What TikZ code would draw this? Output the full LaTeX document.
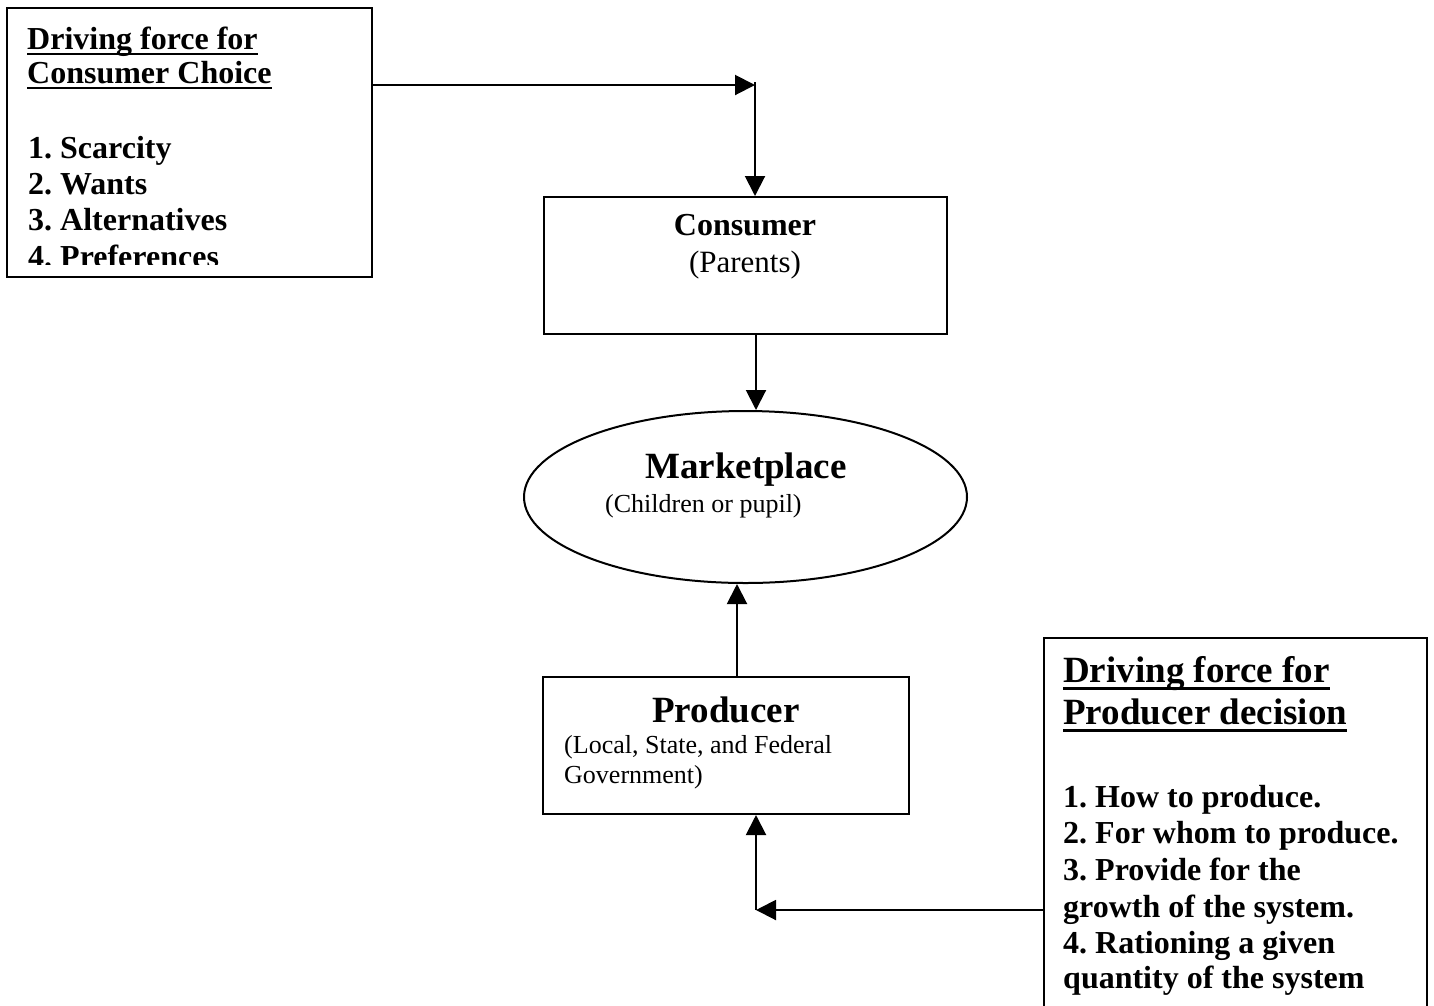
\documentclass[tikz,border=0pt]{standalone}
\usepackage{fontspec}
\setmainfont{Liberation Serif}
\usetikzlibrary{arrows.meta,shapes.geometric}
\frenchspacing
\begin{document}
\begin{tikzpicture}[x=1pt,y=-1pt,
  frame/.style={draw,line width=2pt,inner sep=0pt},
  arr/.style={line width=2pt,-{Triangle[length=20pt,width=20pt]}},
  ulline/.style={line width=2.6pt},
  bigb/.style={inner sep=0pt,font=\fontsize{37}{40}\selectfont\bfseries\frenchspacing},
  medb/.style={inner sep=0pt,font=\fontsize{32}{36}\selectfont\bfseries\frenchspacing},
  medr/.style={inner sep=0pt,font=\fontsize{31}{35}\selectfont\frenchspacing},
  smr/.style={inner sep=0pt,font=\fontsize{26}{30}\selectfont\frenchspacing}]
\clip (0,0) rectangle (1434,1005);
\fill[white] (0,0) rectangle (1434,1005);

% boxes
\node[frame,minimum width=365pt,minimum height=269pt] (lbox) at (189.5,142.5) {};
\node[frame,minimum width=403pt,minimum height=137pt] (cons) at (745.5,265.5) {};
\node[frame,ellipse,minimum width=443pt,minimum height=172pt] (mkt) at (745.5,497) {};
\node[frame,minimum width=366pt,minimum height=137pt] (prod) at (726,745.5) {};
\node[frame,minimum width=383pt,minimum height=392pt] (rbox) at (1235.5,834) {};

% left box text (clipped at the bottom)
\begin{scope}
\clip (9,10) rectangle (370,264);
\node[medb,anchor=base west] (l1) at (27,49) {Driving force for};
\node[medb,anchor=base west] (l2) at (27,83) {Consumer Choice};
\node[medb,anchor=base west] (l3) at (28,158) {1. Scarcity};
\node[medb,anchor=base west] (l4) at (28,194) {2. Wants};
\node[medb,anchor=base west] (l5) at (28,230) {3. Alternatives};
\node[medb,anchor=base west] (l6) at (28,267) {4. Preferences};
\end{scope}
\draw[ulline] ([yshift=-5pt]l1.base west) -- ([yshift=-5pt]l1.base east);
\draw[ulline] ([yshift=-5pt]l2.base west) -- ([yshift=-5pt]l2.base east);

% consumer text
\node[medb,anchor=base] (c1) at (745,235) {Consumer};
\node[medr,anchor=base] (c2) at (745,272) {(Parents)};

% marketplace text
\node[bigb,anchor=base west] (m1) at (645,478) {Marketplace};
\node[smr,anchor=base west] (m2) at (605,512) {(Children or pupil)};

% producer text
\node[bigb,anchor=base] (p1) at (726,722) {Producer};
\node[smr,anchor=base west] (p2) at (564,753) {(Local, State, and Federal};
\node[smr,anchor=base west] (p3) at (564,783) {Government)};

% right box text
\node[bigb,anchor=base west] (r1) at (1063,682) {Driving force for};
\node[bigb,anchor=base west] (r2) at (1063,724) {Producer decision};
\draw[ulline,line width=3pt] ([yshift=-6pt]r1.base west) -- ([yshift=-6pt]r1.base east);
\draw[ulline,line width=3pt] ([yshift=-6pt]r2.base west) -- ([yshift=-6pt]r2.base east);
\node[medb,anchor=base west] (r3) at (1063,807) {1. How to produce.};
\node[medb,anchor=base west] (r4) at (1063,843) {2. For whom to produce.};
\node[medb,anchor=base west] (r5) at (1063,880) {3. Provide for the};
\node[medb,anchor=base west] (r6) at (1063,917) {growth of the system.};
\node[medb,anchor=base west] (r7) at (1063,953) {4. Rationing a given};
\node[medb,anchor=base west] (r8) at (1063,988) {quantity of the system};

% connectors
\coordinate (j1) at (755,85);
\coordinate (j1t) at (755,82);
\coordinate (j2) at (756,910);
\draw[arr] (lbox.east |- j1) -- (j1);
\draw[arr] (j1t) -- (j1t |- cons.north);
\draw[arr] ([xshift=10.5pt]cons.south) -- ([xshift=10.5pt]mkt.north);
\draw[arr] ([xshift=11pt]prod.north) -- ([xshift=11pt]prod.north |- mkt.south);
\draw[arr] (rbox.west |- j2) -- (j2);
\draw[arr] (j2) -- (j2 |- prod.south);
\end{tikzpicture}
\end{document}
